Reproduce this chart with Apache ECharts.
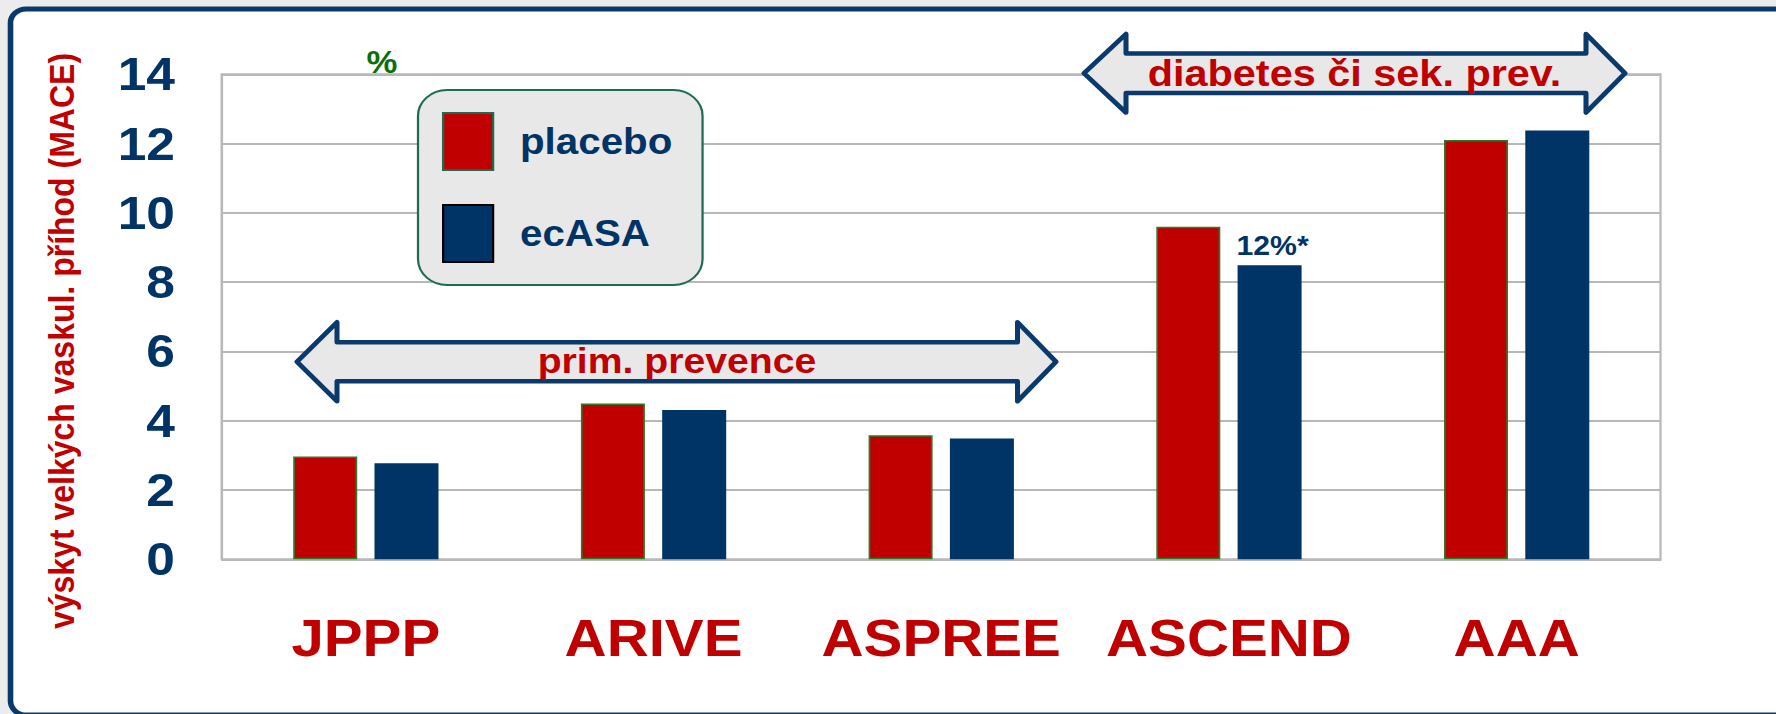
<!DOCTYPE html>
<html>
<head>
<meta charset="utf-8">
<script src="https://cdn.jsdelivr.net/npm/echarts@6/dist/echarts.min.js"></script>
<style>
html, body { margin: 0; padding: 0; background: #ececec; overflow: hidden; }
#wrap { width: 1776px; height: 714px; overflow: hidden; position: relative; }
#chart { width: 1586px; height: 714px; transform: scaleX(1.1198); transform-origin: 0 0; }
</style>
</head>
<body>
<div id="wrap"><div id="chart"></div></div>
<script>
// ---- data ----
const categories = ['JPPP', 'ARIVE', 'ASPREE', 'ASCEND', 'AAA'];
const seriesNames = ['placebo', 'ecASA'];
const placeboValues = [2.97, 4.5, 3.58, 9.6, 12.1];
const ecasaValues = [2.77, 4.31, 3.49, 8.49, 12.38];
const yMin = 0, yMax = 14, yInterval = 2;
const yTitle = 'výskyt velkých vaskul. příhod (MACE)';
const unitLabel = '%';
const annotatedIndex = 3;
const annotationText = '12%*';
const groupLabels = ['prim. prevence', 'diabetes či sek. prev.'];

// ---- layout helpers ----
const SX = 1.1198;              // horizontal stretch of the whole slide
const X = v => v / SX;          // convert picture x to chart x
const FONT = '"Liberation Sans", Arial, sans-serif';
const RED = '#C00000', NAVY = '#003366', GRAY = '#b8b8b8';

function arrowPoints(x0, xb0, xb1, x1, cy, hh, sh) {
  return [
    [X(x0), cy], [X(xb0), cy - hh], [X(xb0), cy - sh], [X(xb1), cy - sh], [X(xb1), cy - hh],
    [X(x1), cy], [X(xb1), cy + hh], [X(xb1), cy + sh], [X(xb0), cy + sh], [X(xb0), cy + hh]
  ];
}

const chart = echarts.init(document.getElementById('chart'), null, { renderer: 'svg' });

const option = {
  backgroundColor: '#ececec',
  animation: false,
  grid: {
    left: X(222), right: 1586 - X(1660.5), top: 74.3, bottom: 154.7,
    show: true, borderColor: GRAY, borderWidth: 2, backgroundColor: 'transparent'
  },
  legend: {
    orient: 'vertical',
    left: X(418), top: 90,
    padding: [22, 27, 22, X(24)],
    itemWidth: X(50), itemHeight: 57, itemGap: 33,
    backgroundColor: '#e8e8e8', borderColor: '#1d6b56', borderWidth: 2, borderRadius: 26,
    icon: 'rect',
    selectedMode: false,
    textStyle: { fontSize: 36, fontWeight: 'bold', color: NAVY, fontFamily: FONT, padding: [0, 0, 0, 19] },
    data: [
      { name: seriesNames[0], itemStyle: { color: RED, borderColor: '#206a4f', borderWidth: 2 } },
      { name: seriesNames[1], itemStyle: { color: NAVY, borderColor: '#000000', borderWidth: 2 } }
    ]
  },
  xAxis: {
    type: 'category',
    data: categories,
    axisTick: { show: false },
    axisLine: { show: true, lineStyle: { color: GRAY, width: 2 } },
    axisLabel: { interval: 0, margin: 53, fontSize: 52, fontWeight: 'bold', color: RED, fontFamily: FONT }
  },
  yAxis: {
    type: 'value',
    min: yMin, max: yMax, interval: yInterval,
    axisLine: { show: true, lineStyle: { color: GRAY, width: 2 } },
    axisTick: { show: false },
    splitLine: { lineStyle: { color: GRAY, width: 2 } },
    axisLabel: { margin: X(47), fontSize: 46, fontWeight: 'bold', color: NAVY, fontFamily: FONT }
  },
  series: [
    {
      name: seriesNames[0], type: 'bar', data: placeboValues,
      barWidth: X(64), barGap: '27%',
      itemStyle: { color: RED, borderColor: '#2a7a2a', borderWidth: 1.5 }
    },
    {
      name: seriesNames[1], type: 'bar',
      data: ecasaValues.map((v, i) => i === annotatedIndex
        ? { value: v, label: { show: true, formatter: annotationText } }
        : v),
      barWidth: X(64), barGap: '27%',
      itemStyle: { color: NAVY },
      label: {
        show: false, position: 'top', distance: 6, offset: [X(3), 0],
        fontSize: 27, fontWeight: 'bold', color: NAVY, fontFamily: FONT
      }
    }
  ],
  graphic: [
    {
      type: 'rect', z: -10, silent: true,
      shape: { x: X(10.5), y: 9, width: X(1790) - X(10.5), height: 706, r: 14 },
      style: { fill: '#ffffff', stroke: '#0a3a6b', lineWidth: 5 }
    },
    {
      type: 'text', z: 20, silent: true,
      x: X(61), y: 341, rotation: Math.PI / 2,
      style: { text: yTitle, fill: RED, font: 'bold 32px ' + FONT, align: 'center', verticalAlign: 'middle' }
    },
    {
      type: 'text', z: 20, silent: true,
      x: X(382), y: 62,
      style: { text: unitLabel, fill: '#0a6e0a', font: 'bold 31px ' + FONT, align: 'center', verticalAlign: 'middle' }
    },
    {
      type: 'polygon', z: 15, silent: true,
      shape: { points: arrowPoints(297, 337, 1017.5, 1056, 361.7, 39.5, 19.5) },
      style: { fill: '#e8e8e8', stroke: '#0a3a6b', lineWidth: 4.5, lineJoin: 'round' }
    },
    {
      type: 'text', z: 16, silent: true,
      x: X(677), y: 360.5,
      style: { text: groupLabels[0], fill: RED, font: 'bold 35px ' + FONT, align: 'center', verticalAlign: 'middle' }
    },
    {
      type: 'polygon', z: 15, silent: true,
      shape: { points: arrowPoints(1084, 1126, 1586, 1625, 73.3, 39.3, 19.7) },
      style: { fill: '#e8e8e8', stroke: '#0a3a6b', lineWidth: 4.5, lineJoin: 'round' }
    },
    {
      type: 'text', z: 16, silent: true,
      x: X(1354.5), y: 72.5,
      style: { text: groupLabels[1], fill: RED, font: 'bold 37px ' + FONT, align: 'center', verticalAlign: 'middle' }
    }
  ]
};

chart.setOption(option);
</script>
</body>
</html>
